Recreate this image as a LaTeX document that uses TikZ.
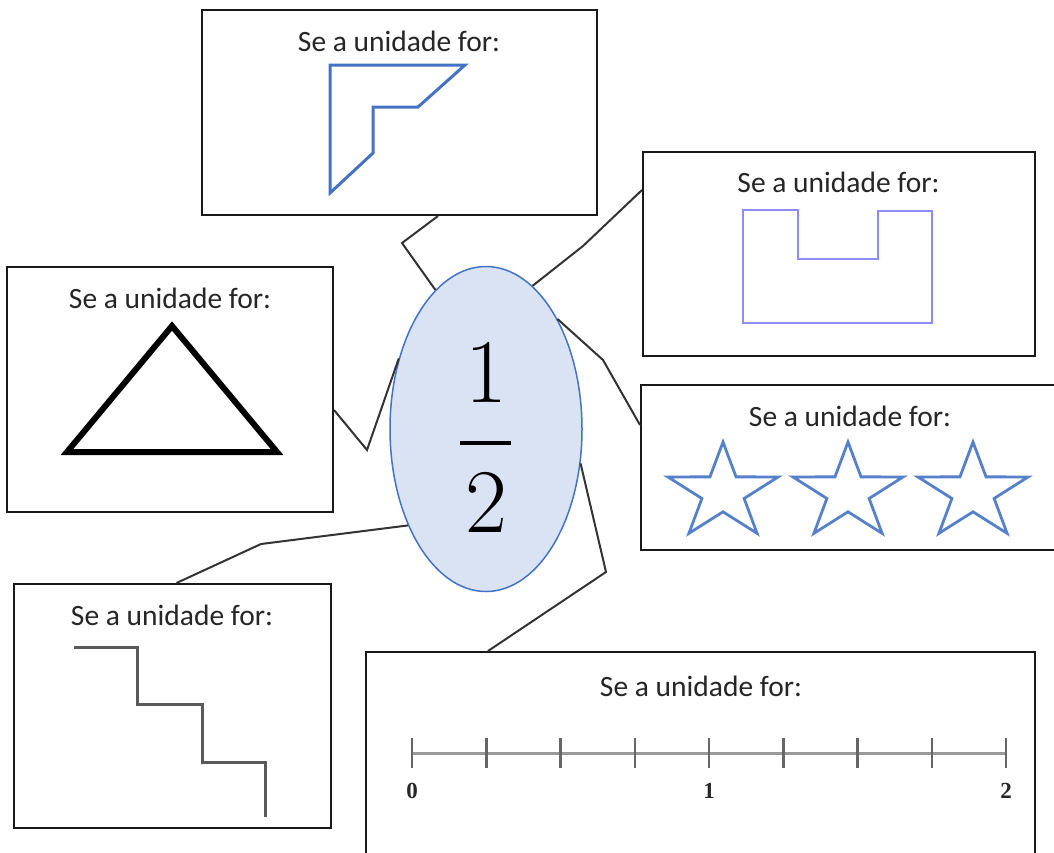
\documentclass[tikz,border=0pt]{standalone}
\usepackage{fontspec}
\newfontfamily\calib{Carlito}
\newfontfamily\nlfont{Liberation Serif}
\usetikzlibrary{shapes.geometric,calc}
\definecolor{accblue}{HTML}{4472C4}
\definecolor{ellfill}{HTML}{DAE3F3}
\definecolor{lav}{RGB}{140,140,250}
\definecolor{txtgray}{HTML}{262626}
\tikzset{
  unitbox/.style={draw=black!90, line width=2pt, fill=white, inner sep=0pt},
  captxt/.style={inner sep=0pt, text=txtgray, font=\calib\fontsize{29.5}{32}\selectfont},
  conn/.style={draw=black!80, line width=2pt, line join=miter},
  bluepoly/.style={draw=accblue, line width=3pt, line join=miter},
  digit/.style={inner sep=0pt, font=\fontsize{91}{91}\selectfont},
  nllabel/.style={inner sep=0pt, font=\nlfont\bfseries\fontsize{23}{24}\selectfont, text=black!85},
}
\begin{document}
\begin{tikzpicture}[x=1pt,y=-1pt]
\useasboundingbox (0,0) rectangle (1054,852);
% boxes
\node[unitbox, minimum width=395pt, minimum height=205pt] (topbox) at (399.5,112.5) {};
\node[unitbox, minimum width=392pt, minimum height=204pt] (rtop) at (839,254) {};
\node[unitbox, minimum width=429pt, minimum height=165pt] (star) at (855.5,467.5) {};
\node[unitbox, minimum width=326pt, minimum height=245pt] (tri) at (170,389.5) {};
\node[unitbox, minimum width=317pt, minimum height=244pt] (stair) at (172.5,706) {};
\node[unitbox, minimum width=669pt, minimum height=260pt] (nline) at (700.5,782) {};
% ellipse
\node[ellipse, draw=accblue, fill=ellfill, line width=1.5pt, minimum width=192pt, minimum height=325pt, inner sep=0pt] (ell) at (486,429) {};
% connectors
\draw[conn] ([xshift=38.5pt]topbox.south) -- (402,243) -- (ell.110);
\draw[conn] ([yshift=64pt]rtop.west) -- (583,246) -- (ell.72);
\draw[conn] ([yshift=42.5pt]star.west) -- (603,360) -- (ell.57);
\draw[conn] ([yshift=-20.5pt]tri.east) -- (367,450) -- (ell.141);
\draw[conn] ([xshift=4pt]stair.north) -- (261,544) -- (ell.231);
\draw[conn] ([xshift=-212.5pt]nline.north) -- (606,572) -- (ell.340);
% fraction
\node[digit] (num) at (486,372.5) {1};
\node[digit] (den) at (486,502.5) {2};
\draw[line width=4pt] (460,443) -- (511,443);
% captions
\node[captxt] (c1) at (399,41) {Se a unidade for:};
\node[captxt] (c2) at (838.5,182) {Se a unidade for:};
\node[captxt] (c3) at (850,416) {Se a unidade for:};
\node[captxt] (c4) at (170,298) {Se a unidade for:};
\node[captxt] (c5) at (172,615) {Se a unidade for:};
\node[captxt] (c6) at (701,686) {Se a unidade for:};
% top shape
\draw[bluepoly] (330,65) -- (465,65) -- (418,107) -- (373,107) -- (373,153) -- (330,193) -- cycle;
% lavender shape
\draw[draw=lav, line width=2pt, line join=miter] (743,210) -- (798,210) -- (798,259) -- (878,259) -- (878,211) -- (932,211) -- (932,323) -- (743,323) -- cycle;
% stars
\foreach \cx in {723,848,973}{
  \draw[bluepoly, line width=2.8pt, draw=accblue!90!white]
    plot[samples at={0,...,9}] ({\cx + (mod(\x,2)==0 ? 58 : 22.2)*cos(90+36*\x)}, {492.5 - 0.87*(mod(\x,2)==0 ? 58 : 22.2)*sin(90+36*\x)}) -- cycle;
}
% triangle
\draw[line width=6pt, line join=miter] (172,326) -- (277,452) -- (67,452) -- cycle;
% stairs
\draw[draw=black!65, line width=3pt, line join=miter] (74,647) -- (137,647) -- (137,704) -- (202,704) -- (202,762) -- (265,762) -- (265,817);
% number line
\draw[draw=black!40, line width=3pt] (412,753) -- (1006,753);
\foreach \k in {0,...,8}{
  \draw[draw=black!60, line width=2.5pt] ({412+74.25*\k},738) -- ({412+74.25*\k},768);
}
\node[nllabel] (l0) at (412,791) {0};
\node[nllabel] (l1) at (709,791) {1};
\node[nllabel] (l2) at (1006,791) {2};
\end{tikzpicture}
\end{document}
